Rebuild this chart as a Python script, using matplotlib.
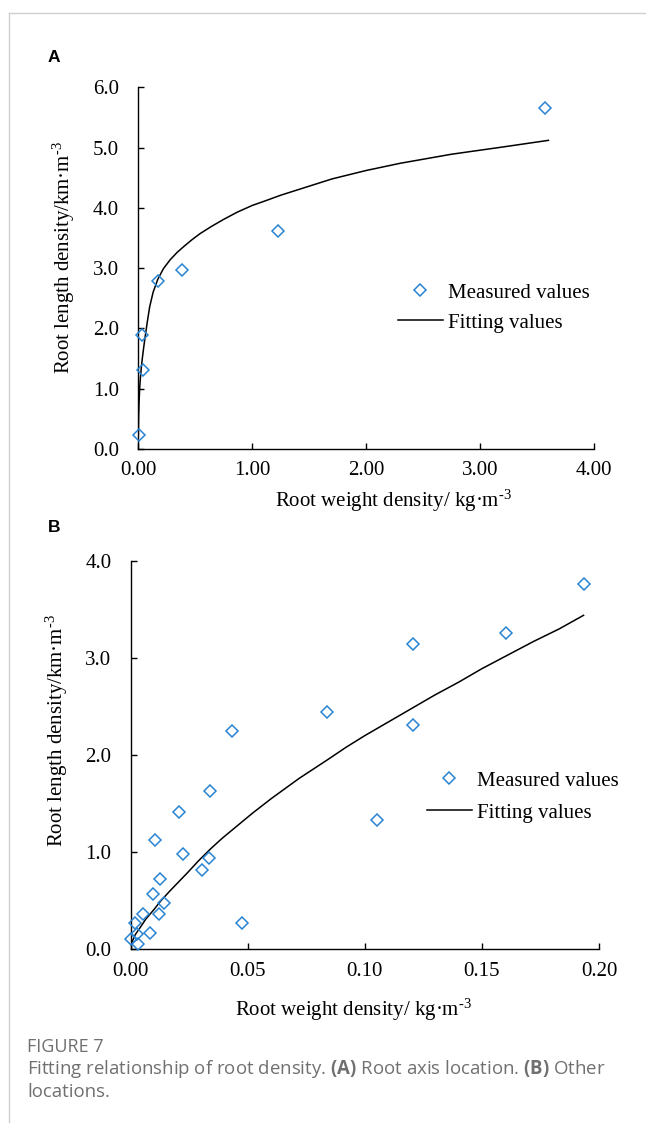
import numpy as np
from matplotlib import pyplot as plt
from matplotlib.lines import Line2D

# Panel A: root axis location
a_meas_x = [0.01, 0.03, 0.04, 0.17, 0.38, 1.23, 3.57]
a_meas_y = [0.24, 1.89, 1.31, 2.79, 2.97, 3.62, 5.66]
a_fit_x = [0.0, 0.003, 0.007, 0.012, 0.018, 0.025, 0.035, 0.047, 0.06, 0.08,
           0.10, 0.13, 0.17, 0.22, 0.28, 0.34, 0.40, 0.47, 0.54, 0.64, 0.75,
           0.87, 1.0, 1.12, 1.25, 1.45, 1.70, 2.0, 2.30, 2.75, 3.20, 3.60]
a_fit_y = [0.20, 0.55, 0.80, 1.00, 1.17, 1.32, 1.50, 1.68, 1.86, 2.12,
           2.36, 2.60, 2.81, 2.99, 3.14, 3.26, 3.36, 3.47, 3.57, 3.69, 3.81,
           3.93, 4.04, 4.12, 4.21, 4.33, 4.48, 4.62, 4.74, 4.89, 5.01, 5.12]

# Panel B: other locations
b_meas_x = [0.1934, 0.1603, 0.1205, 0.1205, 0.0838, 0.1053, 0.0434, 0.0340,
            0.0206, 0.0104, 0.0225, 0.0335, 0.0305, 0.0476, 0.0127, 0.0094,
            0.0141, 0.0120, 0.0051, 0.0020, 0.0082, 0.0026, 0.0001, 0.0032]
b_meas_y = [3.76, 3.26, 3.14, 2.31, 2.44, 1.33, 2.25, 1.63,
            1.41, 1.12, 0.98, 0.94, 0.81, 0.27, 0.72, 0.57,
            0.47, 0.36, 0.36, 0.27, 0.17, 0.155, 0.10, 0.05]
b_fit_x = [0.0005, 0.002, 0.004, 0.0065, 0.0097, 0.013, 0.0168, 0.020, 0.024,
           0.029, 0.034, 0.039, 0.044, 0.052, 0.060, 0.072, 0.084, 0.092,
           0.100, 0.110, 0.120, 0.130, 0.140, 0.150, 0.161, 0.172, 0.183, 0.1934]
b_fit_y = [0.07, 0.15, 0.22, 0.31, 0.40, 0.50, 0.60, 0.68, 0.78,
           0.91, 1.03, 1.14, 1.24, 1.40, 1.55, 1.76, 1.95, 2.08,
           2.20, 2.34, 2.48, 2.62, 2.75, 2.89, 3.03, 3.17, 3.30, 3.44]

serif = "Liberation Serif"
fs = 15
blue = "#2a84d4"

plt.rcParams["font.family"] = serif
plt.rcParams["mathtext.fontset"] = "custom"
plt.rcParams["mathtext.rm"] = serif
plt.rcParams["mathtext.it"] = serif + ":italic"
plt.rcParams["mathtext.bf"] = "Open Sans:bold"

W, H = 646, 1123
fig = plt.figure(figsize=(W / 100, H / 100), dpi=100)


def px_axes(left, right, top, bottom):
    return fig.add_axes([left / W, 1 - bottom / H, (right - left) / W, (bottom - top) / H])


def style(ax):
    for s in ("top", "right"):
        ax.spines[s].set_visible(False)
    for s in ("left", "bottom"):
        ax.spines[s].set_linewidth(1.0)
    ax.tick_params(direction="in", length=4.5, width=1.0, labelsize=fs, pad=9)
    ax.tick_params(axis="y", pad=14)


def draw_panel(ax, mx, my, fx, fy, xticks, yticks, xfmt, leg_xy, lspace, xlab_pos, ylab_pos):
    ax.plot(fx, fy, color="black", lw=1.1, label="Fitting values", zorder=2)
    ax.plot(mx, my, ls="none", marker="D", ms=6.4, mfc="none", mec=blue, mew=1.1,
            label="Measured values", zorder=3, clip_on=False)
    ax.set_xlim(xticks[0], xticks[-1])
    ax.set_ylim(yticks[0], yticks[-1])
    ax.set_xticks(xticks)
    ax.set_yticks(yticks)
    ax.set_xticklabels([xfmt.format(v) for v in xticks])
    ax.set_yticklabels(["{:.1f}".format(v) for v in yticks])
    style(ax)
    ax.set_xlabel(r"Root weight density/ kg·m$^{\mathrm{\text{-3}}}$", fontsize=fs)
    ax.set_ylabel(r"Root length density/km·m$^{\mathrm{\text{-3}}}$", fontsize=fs)
    ax.xaxis.set_label_coords(*xlab_pos)
    ax.yaxis.set_label_coords(*ylab_pos)
    h, l = ax.get_legend_handles_labels()
    ax.legend(h[::-1], l[::-1], loc="upper left", frameon=False, fontsize=fs,
              bbox_to_anchor=(leg_xy[0] / W, 1 - leg_xy[1] / H),
              bbox_transform=fig.transFigure, borderpad=0, borderaxespad=0,
              handlelength=2.15, handletextpad=0.25, labelspacing=lspace)


axA = px_axes(138.3, 594, 87.3, 449)
draw_panel(axA, a_meas_x, a_meas_y, a_fit_x, a_fit_y,
           [0, 1, 2, 3, 4], [0, 1, 2, 3, 4, 5, 6], "{:.2f}",
           (398, 283), 0.5, (0.559, -0.108), (-0.134, 0.53))

axB = px_axes(130.7, 599, 561, 949)
draw_panel(axB, b_meas_x, b_meas_y, b_fit_x, b_fit_y,
           [0, 0.05, 0.10, 0.15, 0.20], [0, 1, 2, 3, 4], "{:.2f}",
           (427, 771), 0.6, (0.475, -0.122), (-0.129, 0.562))

# panel letters
fig.text(48 / W, 1 - 57 / H, "A", family="Liberation Sans", weight="bold",
         fontsize=12.5, va="center")
fig.text(48 / W, 1 - 527 / H, "B", family="Liberation Sans", weight="bold",
         fontsize=12.5, va="center")

# card border
border = "#cfcfcf"
fig.add_artist(Line2D([9 / W, 1], [1 - 13 / H, 1 - 13 / H], transform=fig.transFigure,
                      color=border, lw=1.0))
fig.add_artist(Line2D([9 / W, 9 / W], [0, 1 - 13 / H], transform=fig.transFigure,
                      color=border, lw=1.0))

# caption
grey = "#707070"
fig.text(27 / W, 1 - 1047 / H, "FIGURE 7", family="Open Sans", fontsize=13,
         color=grey, va="center")
cap_kw = dict(family="Open Sans", fontsize=13.4, color=grey, va="center")
fig.text(27 / W, 1 - 1069 / H,
         r"Fitting relationship of root density. $\mathbf{(A)}$ Root axis location. "
         r"$\mathbf{(B)}$ Other", **cap_kw)
fig.text(27 / W, 1 - 1092 / H, "locations.", **cap_kw)

fig.savefig("out.png", dpi=100)
